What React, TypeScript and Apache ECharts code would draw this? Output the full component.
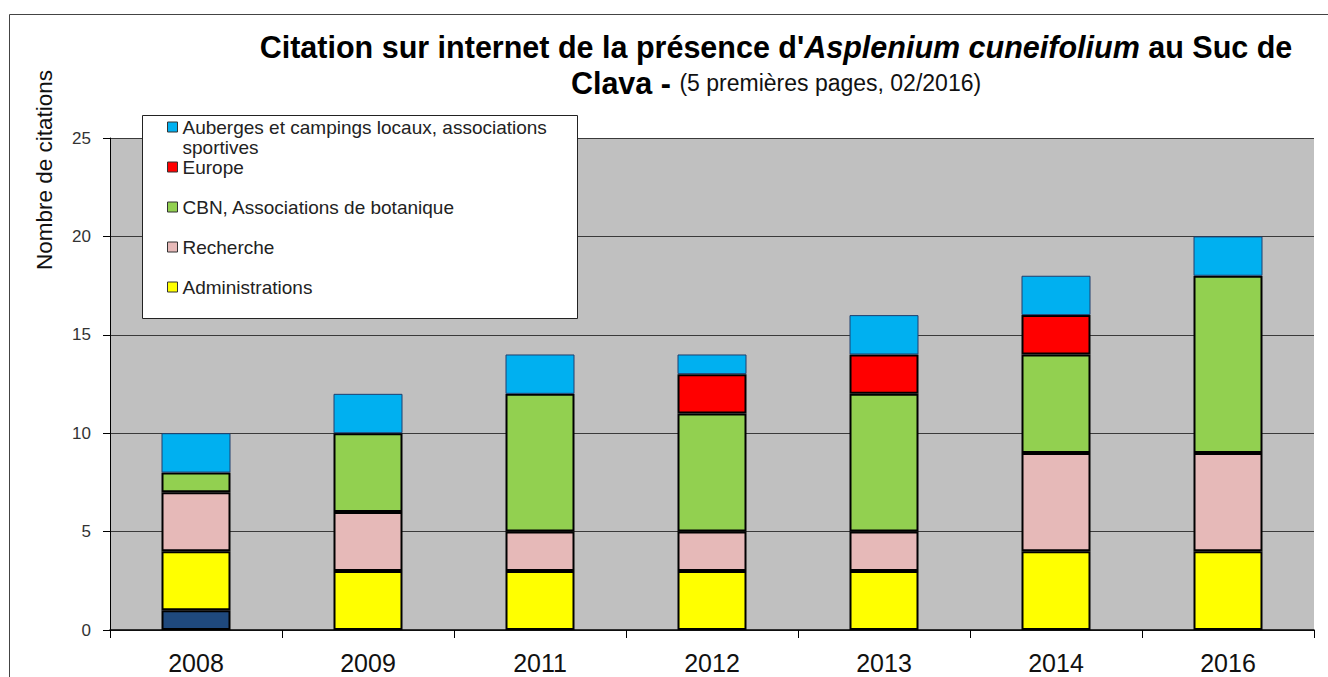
import React, { useEffect, useRef } from "react";
import * as echarts from "echarts";

const years = ["2008", "2009", "2011", "2012", "2013", "2014", "2016"];
const autres = [1, null, null, null, null, null, null];
const administrations = [3, 3, 3, 3, 3, 4, 4];
const recherche = [3, 3, 2, 2, 2, 5, 5];
const cbn = [1, 4, 7, 6, 7, 5, 9];
const europe = [null, null, null, 2, 2, 2, null];
const auberges = [2, 2, 2, 1, 2, 2, 2];

const yTicks = [0, 5, 10, 15, 20, 25];

const nAuberges = "Auberges et campings locaux, associations sportives";
const nEurope = "Europe";
const nCbn = "CBN, Associations de botanique";
const nRecherche = "Recherche";
const nAdmin = "Administrations";
const nAutres = "Autres";

const FONT = "Liberation Sans, Arial, sans-serif";

export default function App() {
  const ref = useRef<HTMLDivElement>(null);
  useEffect(() => {
    if (!ref.current) return;
    const chart = echarts.init(ref.current, undefined, { renderer: "svg" });
    const mk = (name: string, data: any[], color: string, border = "#000", bw = 2) => ({
      name,
      type: "bar",
      stack: "total",
      data,
      barWidth: 69,
      itemStyle: { color, borderColor: border, borderWidth: bw },
    });
    const legendBase = {
      orient: "vertical",
      left: 167,
      padding: 0,
      itemWidth: 10,
      itemHeight: 10,
      itemGap: 5,
      icon: "rect",
      itemStyle: { borderColor: "#333", borderWidth: 1 },
      textStyle: { fontFamily: FONT, fontSize: 19, color: "#222", lineHeight: 20 },
      selectedMode: false,
    };
    chart.setOption({
      animation: false,
      backgroundColor: "#fff",
      title: {
        left: 771,
        top: 23.5,
        textAlign: "center",
        text:
          "{b|Citation sur internet de la présence d'}{bi|Asplenium cuneifolium}{b| au Suc de}\n{b|Clava - }{n|(5 premières pages, 02/2016)}",
        textStyle: {
          rich: {
            b: { fontFamily: FONT, fontSize: 30.5, fontWeight: "bold", color: "#000", lineHeight: 36 },
            bi: { fontFamily: FONT, fontSize: 30.5, fontWeight: "bold", fontStyle: "italic", color: "#000", lineHeight: 36 },
            n: { fontFamily: FONT, fontSize: 23, fontWeight: "normal", color: "#111", lineHeight: 36 },
          },
        },
      },
      grid: {
        left: 110,
        right: 14,
        top: 138,
        bottom: 47,
        show: true,
        backgroundColor: "#C0C0C0",
        borderWidth: 0,
      },
      legend: [
        {
          ...legendBase,
          top: 97,
          data: [nAuberges],
          formatter: () => "\nAuberges et campings locaux, associations\nsportives",
        },
        { ...legendBase, top: 157, data: [nEurope] },
        { ...legendBase, top: 197, data: [nCbn] },
        { ...legendBase, top: 237, data: [nRecherche] },
        { ...legendBase, top: 277, data: [nAdmin] },
      ],
      xAxis: {
        type: "category",
        data: years,
        axisLine: { lineStyle: { color: "#000", width: 1.5 } },
        axisTick: { show: true, length: 8, lineStyle: { color: "#000" } },
        axisLabel: { fontFamily: FONT, fontSize: 25, color: "#111", margin: 20 },
      },
      yAxis: {
        type: "value",
        min: 0,
        max: 25,
        interval: 5,
        axisLine: { show: true, lineStyle: { color: "#000", width: 1 } },
        axisTick: { show: true, length: 7, lineStyle: { color: "#000" } },
        axisLabel: {
          fontFamily: FONT,
          fontSize: 17,
          color: "#333",
          margin: 19,
          formatter: (v: number) => (yTicks.includes(v) ? String(v) : ""),
        },
        splitLine: { show: true, lineStyle: { color: "#3a3a3a", width: 1 } },
      },
      graphic: [
        {
          type: "rect",
          z: -10,
          silent: true,
          shape: { x: 9.5, y: 14.5, width: 1340, height: 700 },
          style: { fill: "none", stroke: "#444", lineWidth: 1 },
        },
        {
          type: "rect",
          z: 3,
          silent: true,
          shape: { x: 142.5, y: 115.5, width: 435, height: 203 },
          style: { fill: "#fff", stroke: "#222", lineWidth: 1 },
        },
        {
          type: "text",
          x: 44,
          y: 170,
          rotation: Math.PI / 2,
          style: {
            text: "Nombre de citations",
            fontFamily: FONT,
            fontSize: 22.5,
            fill: "#111",
            align: "center",
            verticalAlign: "middle",
          },
        },
      ],
      series: [
        mk(nAutres, autres, "#1F497D"),
        mk(nAdmin, administrations, "#FFFF00"),
        mk(nRecherche, recherche, "#E6B9B8"),
        mk(nCbn, cbn, "#92D050"),
        mk(nEurope, europe, "#FF0000"),
        mk(nAuberges, auberges, "#00B0F0", "#1F3F6F", 1),
      ],
    });
    return () => chart.dispose();
  }, []);
  return <div ref={ref} style={{ width: 1328, height: 677, position: "absolute", left: 0, top: 0 }} />;
}
